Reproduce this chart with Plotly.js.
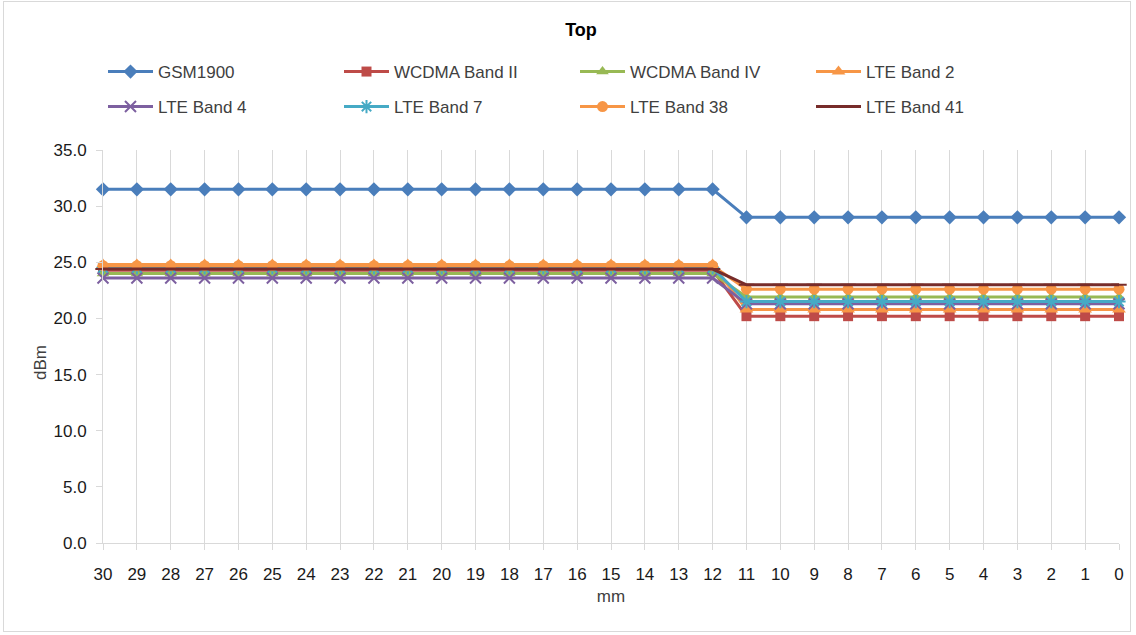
<!DOCTYPE html>
<html>
<head>
<meta charset="utf-8">
<script src="https://cdn.plot.ly/plotly-3.0.1.min.js"></script>
<style>
  html, body { margin: 0; padding: 0; background: #ffffff; }
  #frame { position: absolute; left: 3px; top: 1px; width: 1128px; height: 631px; border: 1px solid #d9d9d9; box-sizing: border-box; }
  #chart { position: absolute; left: 0; top: 0; width: 1136px; height: 635px; }
</style>
</head>
<body>
<div id="frame"></div>
<div id="chart"></div>
<script>
// Categories (distance in mm)
const categories = ["30","29","28","27","26","25","24","23","22","21","20","19","18","17","16","15","14","13","12","11","10","9","8","7","6","5","4","3","2","1","0"];

// Series values (dBm)
const gsm1900     = [31.5,31.5,31.5,31.5,31.5,31.5,31.5,31.5,31.5,31.5,31.5,31.5,31.5,31.5,31.5,31.5,31.5,31.5,31.5,29.0,29.0,29.0,29.0,29.0,29.0,29.0,29.0,29.0,29.0,29.0,29.0];
const wcdmaBand2  = [24.3,24.3,24.3,24.3,24.3,24.3,24.3,24.3,24.3,24.3,24.3,24.3,24.3,24.3,24.3,24.3,24.3,24.3,24.3,20.2,20.2,20.2,20.2,20.2,20.2,20.2,20.2,20.2,20.2,20.2,20.2];
const wcdmaBand4  = [24.0,24.0,24.0,24.0,24.0,24.0,24.0,24.0,24.0,24.0,24.0,24.0,24.0,24.0,24.0,24.0,24.0,24.0,24.0,21.9,21.9,21.9,21.9,21.9,21.9,21.9,21.9,21.9,21.9,21.9,21.9];
const lteBand2    = [24.8,24.8,24.8,24.8,24.8,24.8,24.8,24.8,24.8,24.8,24.8,24.8,24.8,24.8,24.8,24.8,24.8,24.8,24.8,20.8,20.8,20.8,20.8,20.8,20.8,20.8,20.8,20.8,20.8,20.8,20.8];
const lteBand4    = [23.6,23.6,23.6,23.6,23.6,23.6,23.6,23.6,23.6,23.6,23.6,23.6,23.6,23.6,23.6,23.6,23.6,23.6,23.6,21.3,21.3,21.3,21.3,21.3,21.3,21.3,21.3,21.3,21.3,21.3,21.3];
const lteBand7    = [24.5,24.5,24.5,24.5,24.5,24.5,24.5,24.5,24.5,24.5,24.5,24.5,24.5,24.5,24.5,24.5,24.5,24.5,24.5,21.5,21.5,21.5,21.5,21.5,21.5,21.5,21.5,21.5,21.5,21.5,21.5];
const lteBand38   = [24.7,24.7,24.7,24.7,24.7,24.7,24.7,24.7,24.7,24.7,24.7,24.7,24.7,24.7,24.7,24.7,24.7,24.7,24.7,22.6,22.6,22.6,22.6,22.6,22.6,22.6,22.6,22.6,22.6,22.6,22.6];
const lteBand41   = [24.4,24.4,24.4,24.4,24.4,24.4,24.4,24.4,24.4,24.4,24.4,24.4,24.4,24.4,24.4,24.4,24.4,24.4,24.4,23.0,23.0,23.0,23.0,23.0,23.0,23.0,23.0,23.0,23.0,23.0,23.0];

const seriesNames = ["GSM1900","WCDMA Band II","WCDMA Band IV","LTE Band 2","LTE Band 4","LTE Band 7","LTE Band 38","LTE Band 41"];
const yTickVals = [0,5,10,15,20,25,30,35];

const FONT = "Liberation Sans, Arial, sans-serif";
const TXT = "#404040";

function mk(name, y, color, symbol, msize, legend) {
  return {
    type: "scatter", mode: "lines+markers", name: name,
    x: categories, y: y,
    line: { color: color, width: 3 },
    marker: { symbol: symbol, size: msize, color: color, line: { color: color, width: (symbol.indexOf("open") >= 0 ? 2 : 0) } },
    cliponaxis: false,
    legend: legend
  };
}

const traces = [
  mk(seriesNames[0], gsm1900,    "#4a7ebb", "diamond", 11, "legend"),
  mk(seriesNames[1], wcdmaBand2, "#be4b48", "square", 10, "legend"),
  mk(seriesNames[2], wcdmaBand4, "#98b954", "triangle-up", 11, "legend"),
  mk(seriesNames[3], lteBand2,   "#f79646", "triangle-up", 12, "legend"),
  mk(seriesNames[4], lteBand4,   "#7d60a0", "x-thin-open", 11, "legend2"),
  mk(seriesNames[5], lteBand7,   "#46aac5", "asterisk-open", 11, "legend2"),
  mk(seriesNames[6], lteBand38,  "#f79646", "circle", 11, "legend2"),
  mk(seriesNames[7], lteBand41,  "#772c2a", "line-ew-open", 11, "legend2")
];

const legendCommon = {
  orientation: "h",
  xref: "container", yref: "container",
  xanchor: "left", yanchor: "middle",
  entrywidth: 176, entrywidthmode: "pixels",
  itemwidth: 45,
  font: { family: FONT, size: 17, color: TXT },
  bgcolor: "rgba(0,0,0,0)",
  traceorder: "normal",
  itemclick: false
};

const layout = {
  width: 1136, height: 635,
  paper_bgcolor: "rgba(0,0,0,0)", plot_bgcolor: "#ffffff",
  margin: { l: 103, r: 17, t: 150, b: 92 },
  font: { family: FONT, size: 17, color: TXT },
  title: {
    text: "<b>Top</b>", font: { family: FONT, size: 18, color: "#000000" },
    xref: "container", yref: "container", x: 581/1136, y: 1 - 30/635,
    xanchor: "center", yanchor: "middle"
  },
  showlegend: true,
  legend: Object.assign({}, legendCommon, { x: 103/1136, y: 1 - 72/635 }),
  legend2: Object.assign({}, legendCommon, { x: 103/1136, y: 1 - 107/635 }),
  xaxis: {
    type: "category", range: [0, 30],
    showgrid: true, gridcolor: "#d9d9d9", gridwidth: 1,
    showline: true, linecolor: "#d9d9d9", linewidth: 1,
    ticks: "outside", ticklen: 6, tickcolor: "#d9d9d9",
    ticklabelstandoff: 10,
    tickfont: { family: FONT, size: 17, color: "#1a1a1a" },
    title: { text: "mm", font: { family: FONT, size: 17, color: TXT }, standoff: 6 },
    zeroline: false, fixedrange: true
  },
  yaxis: {
    range: [0, 35], tickvals: yTickVals, tickformat: ".1f",
    showgrid: false,
    showline: true, linecolor: "#d9d9d9", linewidth: 1,
    ticks: "outside", ticklen: 6, tickcolor: "#d9d9d9",
    ticklabelstandoff: 6,
    tickfont: { family: FONT, size: 17, color: "#1a1a1a" },
    zeroline: false, fixedrange: true
  },
  annotations: [{
    text: "dBm", textangle: -90, showarrow: false,
    xref: "paper", yref: "paper",
    x: -63/1016, y: (543 - 363) / 393,
    xanchor: "center", yanchor: "middle",
    font: { family: FONT, size: 17, color: TXT }
  }]
};

Plotly.newPlot("chart", traces, layout, { displayModeBar: false, staticPlot: true });
</script>
</body>
</html>
